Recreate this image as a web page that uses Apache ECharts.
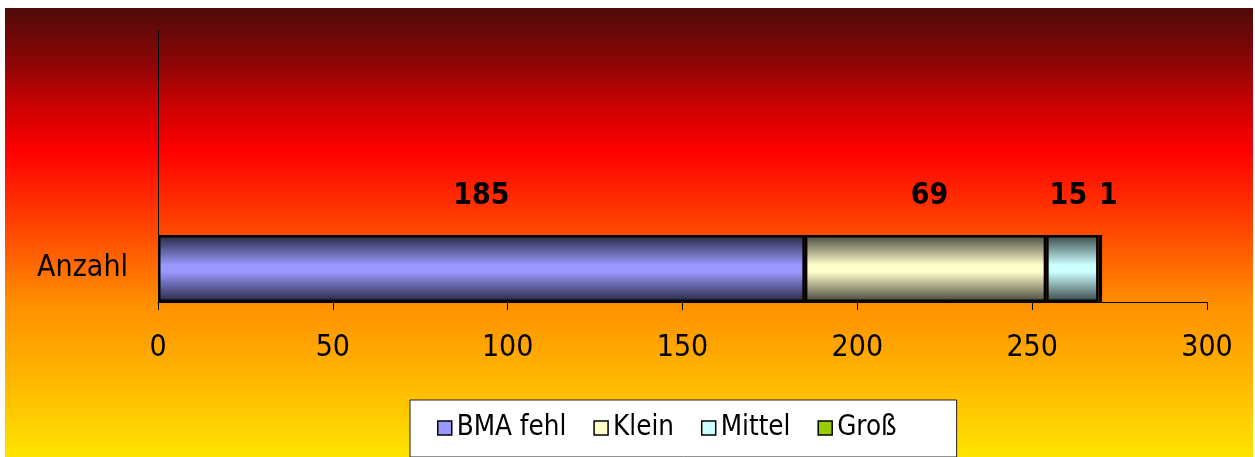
<!DOCTYPE html>
<html>
<head>
<meta charset="utf-8">
<script src="https://cdn.jsdelivr.net/npm/echarts@6/dist/echarts.min.js"></script>
<style>
  html, body { margin: 0; padding: 0; background: #fff; }
  #chart { width: 1255px; height: 457px; }
</style>
</head>
<body>
<div id="chart"></div>
<script>
const categories = ['Anzahl']
const seriesNames = ['BMA fehl', 'Klein', 'Mittel', 'Groß']
const bmaFehl = [185]
const klein = [69]
const mittel = [15]
const gross = [1]
const xMin = 0
const xMax = 300
const xStep = 50

const FONT = "'DejaVu Sans Condensed', 'DejaVu Sans', sans-serif"
const colors = ['#9999ff', '#ffffcc', '#ccffff', '#99cc00']
const edges = ['#26263f', '#45453a', '#364545', '#283300']

function shade(i) {
  return new echarts.graphic.LinearGradient(0, 0, 0, 1, [
    { offset: 0, color: edges[i] },
    { offset: 0.45, color: colors[i] },
    { offset: 0.55, color: colors[i] },
    { offset: 1, color: edges[i] }
  ])
}

const values = [bmaFehl, klein, mittel, gross]
const labelOffsets = [[0, 0], [4, 0], [-4, 0], [8, 0]]

const chart = echarts.init(document.getElementById('chart'))

chart.setOption({
  backgroundColor: '#fff',
  animation: false,
  graphic: [{
    type: 'rect',
    z: -10,
    shape: { x: 5, y: 8, width: 1248, height: 449 },
    style: {
      fill: new echarts.graphic.LinearGradient(0, 0, 0, 1, [
        { offset: 0, color: '#510a0a' },
        { offset: 0.12, color: '#8a0606' },
        { offset: 0.22, color: '#cc0202' },
        { offset: 0.32, color: '#ff0000' },
        { offset: 0.5, color: '#ff4a00' },
        { offset: 0.66, color: '#ff9000' },
        { offset: 0.82, color: '#ffb400' },
        { offset: 1, color: '#ffe400' }
      ])
    }
  }],
  grid: [
    { left: 158, right: 48, top: 235, bottom: 155 },
    { left: 158, right: 48, top: 31, bottom: 155 }
  ],
  legend: {
    left: 410,
    top: 400,
    padding: [14, 60, 15, 27],
    backgroundColor: '#fff',
    borderColor: '#222',
    borderWidth: 1,
    itemWidth: 14,
    itemHeight: 14,
    itemGap: 27,
    textStyle: { fontFamily: FONT, fontSize: 27.5, color: '#000' },
    data: seriesNames.map((n, i) => ({
      name: n,
      icon: 'rect',
      itemStyle: { color: colors[i], borderColor: '#000', borderWidth: 1.5 }
    }))
  },
  xAxis: [{
    gridIndex: 0,
    type: 'value',
    min: xMin,
    max: xMax,
    interval: xStep,
    splitLine: { show: false },
    axisLine: { show: true, lineStyle: { color: '#000', width: 1 } },
    axisTick: { show: true, length: 8, lineStyle: { color: '#000' } },
    axisLabel: { fontFamily: FONT, fontSize: 30, color: '#000', margin: 31 }
  }, {
    gridIndex: 1,
    type: 'value',
    show: false
  }],
  yAxis: [{
    gridIndex: 0,
    type: 'category',
    data: categories,
    axisLine: { show: true, lineStyle: { color: '#000', width: 1 } },
    axisTick: { show: false },
    axisLabel: { fontFamily: FONT, fontSize: 30, color: '#000', margin: 30 }
  }, {
    gridIndex: 1,
    type: 'value',
    axisLine: { show: true, lineStyle: { color: '#000', width: 1 } },
    axisTick: { show: false },
    axisLabel: { show: false },
    splitLine: { show: false }
  }],
  series: seriesNames.map((n, i) => ({
    name: n,
    type: 'bar',
    stack: 'total',
    xAxisIndex: 0,
    yAxisIndex: 0,
    barWidth: '100%',
    data: values[i],
    itemStyle: { color: shade(i), borderColor: '#000', borderWidth: 2.5 },
    label: {
      show: true,
      position: 'top',
      distance: 24,
      offset: labelOffsets[i],
      fontFamily: FONT,
      fontSize: 30,
      fontWeight: 'bold',
      color: '#000'
    }
  }))
})
</script>
</body>
</html>
